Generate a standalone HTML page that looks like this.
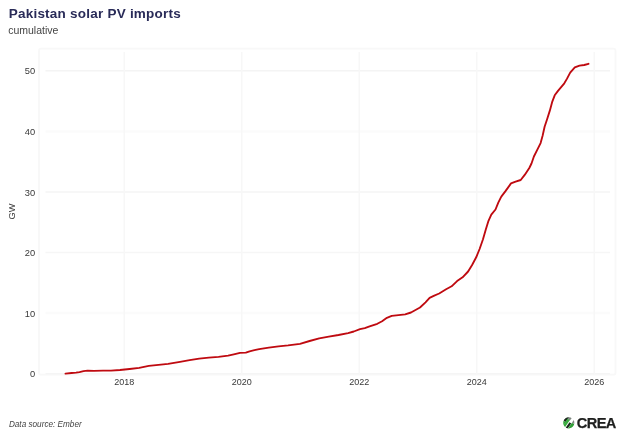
<!DOCTYPE html>
<html><head><meta charset="utf-8"><style>
html,body{margin:0;padding:0;background:#fff;}
body{width:624px;height:437px;overflow:hidden;}
svg{display:block;will-change:transform;filter:blur(0.35px);font-family:"Liberation Sans",sans-serif;}
</style></head><body>
<svg width="624" height="437" viewBox="0 0 624 437">
<rect width="624" height="437" fill="#fff"/>
<rect x="39" y="48.7" width="576.5" height="326" rx="2" fill="none" stroke="#f8f8f8" stroke-width="1.8"/>
<g stroke="#f7f7f7" stroke-width="1.5" fill="none">
<line x1="45.5" y1="373.7" x2="610" y2="373.7" stroke="#f5f5f5" stroke-width="1.5"/><line x1="45.5" y1="313.1" x2="610" y2="313.1" stroke="#fbfbfb" stroke-width="2.5"/><line x1="45.5" y1="252.5" x2="610" y2="252.5" stroke="#f6f6f6" stroke-width="1.5"/><line x1="45.5" y1="192.0" x2="610" y2="192.0" stroke="#f5f5f5" stroke-width="1.5"/><line x1="45.5" y1="131.4" x2="610" y2="131.4" stroke="#fbfbfb" stroke-width="2.5"/><line x1="45.5" y1="70.8" x2="610" y2="70.8" stroke="#f4f4f4" stroke-width="1.5"/><line x1="124.3" y1="52" x2="124.3" y2="374.5"/><line x1="241.8" y1="52" x2="241.8" y2="374.5"/><line x1="359.3" y1="52" x2="359.3" y2="374.5"/><line x1="476.8" y1="52" x2="476.8" y2="374.5"/><line x1="594.3" y1="52" x2="594.3" y2="374.5"/>
</g>
<text x="8.7" y="18" font-size="13.5" font-weight="bold" fill="#292b58" letter-spacing="0.23">Pakistan solar PV imports</text>
<text x="8.2" y="33.9" font-size="10.5" fill="#444">cumulative</text>
<g font-size="9.3" fill="#383838">
<text x="35.2" y="377.3" text-anchor="end">0</text><text x="35.2" y="316.7" text-anchor="end">10</text><text x="35.2" y="256.1" text-anchor="end">20</text><text x="35.2" y="195.6" text-anchor="end">30</text><text x="35.2" y="135.0" text-anchor="end">40</text><text x="35.2" y="74.4" text-anchor="end">50</text>
<text x="124.3" y="384.9" text-anchor="middle" font-size="9">2018</text><text x="241.8" y="384.9" text-anchor="middle" font-size="9">2020</text><text x="359.3" y="384.9" text-anchor="middle" font-size="9">2022</text><text x="476.8" y="384.9" text-anchor="middle" font-size="9">2024</text><text x="594.3" y="384.9" text-anchor="middle" font-size="9">2026</text>
<text transform="translate(14.7,211.4) rotate(-90)" text-anchor="middle">GW</text>
</g>
<path d="M65.5,373.6 L71.6,373.0 L76.0,372.6 L79.5,372.1 L83.5,371.1 L87.6,370.7 L94.0,370.8 L103.0,370.7 L111.0,370.6 L120.0,370.0 L129.6,369.0 L139.2,367.8 L144.0,366.8 L148.8,365.9 L158.5,364.9 L168.1,363.9 L180.0,361.9 L189.6,360.2 L199.2,358.6 L208.8,357.6 L218.5,356.8 L228.1,355.7 L233.8,354.4 L240.0,352.9 L245.8,352.6 L249.6,351.3 L254.4,350.2 L259.2,349.2 L268.8,347.6 L278.5,346.3 L288.1,345.4 L300.0,343.8 L309.6,341.0 L319.2,338.4 L328.8,336.6 L338.5,335.0 L348.1,333.1 L353.8,331.5 L360.0,329.2 L364.8,328.1 L369.6,326.4 L377.3,323.8 L382.1,321.2 L386.9,317.8 L391.7,315.9 L398.5,315.2 L405.2,314.4 L411.0,312.5 L420.0,307.5 L425.5,302.3 L429.6,297.8 L433.7,295.9 L439.2,293.5 L446.1,289.3 L451.6,286.3 L457.1,281.1 L462.6,277.3 L468.1,271.5 L472.1,265.0 L476.2,257.3 L479.6,249.0 L483.0,239.3 L485.8,229.5 L488.5,220.8 L491.3,214.6 L495.5,209.5 L498.4,202.3 L501.3,196.6 L505.3,191.4 L511.0,183.4 L515.6,181.7 L520.7,180.0 L524.7,174.9 L529.3,168.0 L531.5,163.5 L533.9,156.5 L537.6,149.1 L540.6,143.1 L542.6,135.7 L544.6,126.8 L547.1,119.3 L549.9,110.4 L552.3,101.6 L554.7,95.3 L558.0,90.9 L564.3,83.3 L566.9,78.9 L570.2,72.6 L574.8,67.4 L579.5,65.6 L584.2,65.0 L588.5,63.8" fill="none" stroke="#bf0a10" stroke-width="1.85" stroke-linejoin="round" stroke-linecap="round"/>
<text x="8.9" y="426.6" font-size="8.2" font-style="italic" fill="#444">Data source: Ember</text>
<defs><clipPath id="lc"><circle cx="0" cy="0" r="5.6"/></clipPath></defs>
<g transform="translate(568.8,422.8) rotate(35)" clip-path="url(#lc)">
<rect x="-6" y="-6" width="3.0" height="7.2" fill="#1b2a1d"/>
<rect x="-6" y="1.2" width="3.0" height="6" fill="#2f9e36"/>
<rect x="-3.3" y="-6" width="2.9" height="3.6" fill="#7d877f"/>
<rect x="-3.3" y="-2.6" width="2.7" height="9" fill="#39ac3f"/>
<rect x="0.3" y="-0.8" width="2.1" height="7" fill="#18261a"/>
<rect x="2.5" y="-6" width="3.6" height="4.0" fill="#7d877f"/>
<rect x="2.6" y="-1.8" width="3.5" height="8" fill="#2f9e36"/>
</g>
<text x="576.8" y="428.1" font-size="14.6" font-weight="bold" fill="#1e1f1e" stroke="#1e1f1e" stroke-width="0.25" letter-spacing="-0.6">CREA</text>
</svg>
</body></html>
